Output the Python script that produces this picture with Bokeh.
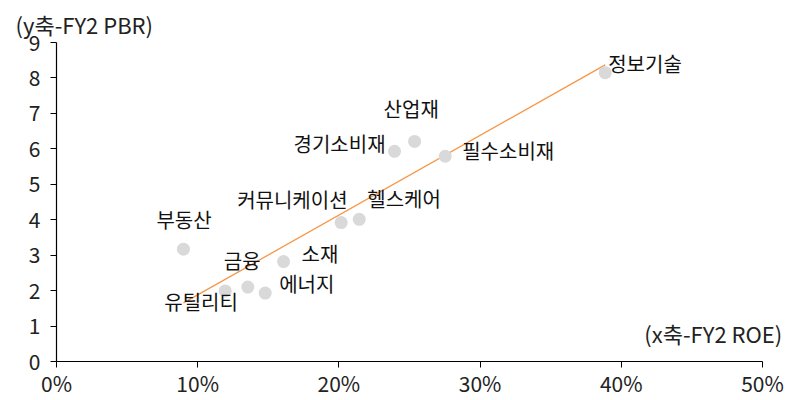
import numpy as np
from bokeh.plotting import figure
from bokeh.models import ColumnDataSource, Label, NumeralTickFormatter, FixedTicker, Range1d
from bokeh.core.properties import value
from bokeh.embed import file_html
from bokeh.resources import INLINE

# ---- data ----
sectors = ["정보기술", "산업재", "경기소비재", "필수소비재", "커뮤니케이션", "헬스케어",
           "부동산", "소재", "금융", "에너지", "유틸리티"]
roe = [0.3886, 0.2536, 0.2394, 0.2753, 0.2016, 0.2144, 0.0899, 0.1608, 0.1355, 0.1478, 0.1195]
pbr = [8.15, 6.21, 5.93, 5.79, 3.92, 4.01, 3.17, 2.82, 2.10, 1.93, 1.99]
x_ticks = [0, 0.1, 0.2, 0.3, 0.4, 0.5]
y_ticks = [0, 1, 2, 3, 4, 5, 6, 7, 8, 9]
y_title = "(y축-FY2 PBR)"
x_title = "(x축-FY2 ROE)"

# label placement (pixel offsets from each point)
label_dx = [3, -31, -101, 17, -104, 8, -27, 18, -24, 14, -61]
label_dy = [-9, -33, -8, -6, -23, -21, -30, -8, -27, -10, 11]

FONT = "Noto Sans CJK KR"

p = figure(width=788, height=400, output_backend="svg", toolbar_location=None,
           x_range=Range1d(0, 0.517), y_range=Range1d(0, 9),
           min_border_left=56, min_border_right=2, min_border_top=42, min_border_bottom=38)
p.outline_line_color = None
p.xgrid.visible = False
p.ygrid.visible = False
p.background_fill_color = "white"
p.border_fill_color = "white"

p.title.text = y_title
p.title.align = "left"
p.title.offset = -41
p.title.standoff = 6
p.title.text_font = FONT
p.title.text_font_size = "22px"
p.title.text_font_style = "normal"
p.title.text_color = "#222222"

for ax in (p.xaxis[0], p.yaxis[0]):
    ax.axis_line_color = "black"
    ax.axis_line_width = 1.2
    ax.major_tick_line_color = "black"
    ax.major_tick_in = 0
    ax.major_tick_out = 6
    ax.minor_tick_line_color = None
    ax.major_label_text_font = FONT
    ax.major_label_text_font_size = "21px"
    ax.major_label_text_color = "#222222"

p.xaxis.ticker = FixedTicker(ticks=x_ticks)
p.xaxis.bounds = (x_ticks[0], x_ticks[-1])
p.xaxis.formatter = NumeralTickFormatter(format="0%")
p.xaxis.major_label_standoff = 0
p.yaxis.ticker = FixedTicker(ticks=y_ticks)
p.yaxis.major_label_standoff = 10

# regression line over data extent
coef = np.polyfit(roe, pbr, 1)
xs = [min(roe), max(roe)]
ys = [coef[0] * v + coef[1] for v in xs]
p.line(xs, ys, line_color="#F79646", line_width=1.3)

src = ColumnDataSource(dict(x=roe, y=pbr, name=sectors, dx=label_dx, dy=label_dy))
p.scatter("x", "y", source=src, size=13, fill_color="#D9D9D9", line_color=None)
p.text("x", "y", text="name", source=src, x_offset="dx", y_offset="dy",
       text_font=value(FONT), text_font_size="20px", text_color="#111111",
       text_align="left", text_baseline="middle")

p.add_layout(Label(x=0.514, y=0.81, text=x_title, text_font=FONT, text_font_size="22px",
                   text_color="#222222", text_align="right", text_baseline="middle"))

open("out.html", "w").write(file_html(p, INLINE))
